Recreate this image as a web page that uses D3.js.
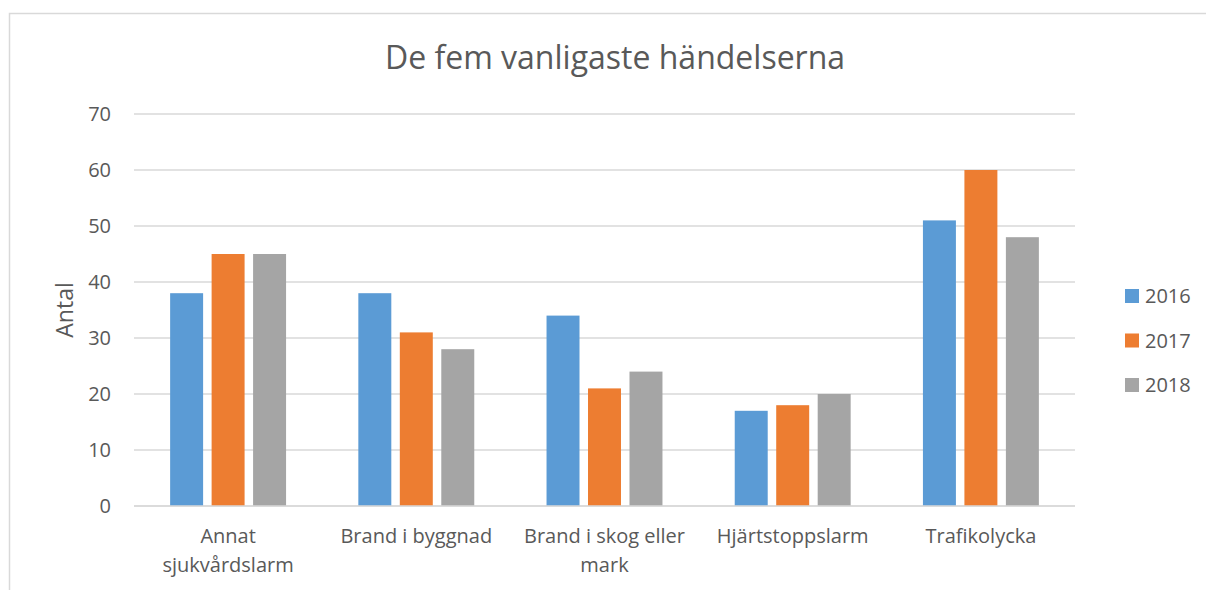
<!DOCTYPE html>
<html>
<head>
<meta charset="utf-8">
<script src="https://cdn.jsdelivr.net/npm/d3@7"></script>
<style>
  body { margin: 0; background: #fff; }
  svg text { font-family: "Open Sans", Lato, sans-serif; fill: #595959; }
</style>
</head>
<body>
<div id="chart"></div>
<script>
// data
var categories = ["Annat sjukvårdslarm", "Brand i byggnad", "Brand i skog eller mark", "Hjärtstoppslarm", "Trafikolycka"]
var years = ["2016", "2017", "2018"]
var values2016 = [38, 38, 34, 17, 51]
var values2017 = [45, 31, 21, 18, 60]
var values2018 = [45, 28, 24, 20, 48]
var yTicks = [0, 10, 20, 30, 40, 50, 60, 70]
var colors = ["#5B9BD5", "#ED7D31", "#A5A5A5"]

var series = [values2016, values2017, values2018]
var rows = categories.map((c, i) => ({ cat: c, vals: series.map(s => s[i]) }))

var width = 1206, height = 590
var m = { left: 134, right: 131, top: 114, bottom: 84 }
var font = "'Open Sans', Lato, sans-serif"

var svg = d3.select("#chart").append("svg")
    .attr("width", width)
    .attr("height", height)

// chart frame
svg.append("rect")
    .attr("x", 9.5).attr("y", 13.5)
    .attr("width", 1210).attr("height", 600)
    .attr("fill", "none").attr("stroke", "#D9D9D9").attr("stroke-width", 1.5)

var x = d3.scaleBand().domain(categories)
    .range([m.left, width - m.right])
    .paddingInner(0.384).paddingOuter(0.192)
var xs = d3.scaleBand().domain(years)
    .range([0, x.bandwidth()])
    .paddingInner(0.205)
var y = d3.scaleLinear().domain([0, 70]).range([height - m.bottom, m.top])

// grid
svg.append("g").selectAll("line").data(yTicks).join("line")
    .attr("x1", m.left).attr("x2", width - m.right)
    .attr("y1", d => y(d)).attr("y2", d => y(d))
    .attr("stroke", "#D9D9D9").attr("stroke-width", 1.3)

// y axis labels
var yAxis = svg.append("g")
    .attr("transform", "translate(" + (m.left - 23) + ",0)")
    .call(d3.axisLeft(y).tickValues(yTicks).tickSize(0).tickPadding(0))
yAxis.select(".domain").remove()
yAxis.selectAll("text").attr("font-size", 20).attr("fill", "#595959")
    .style("font-family", font)

// bars
var groups = svg.append("g").selectAll("g").data(rows).join("g")
    .attr("transform", d => "translate(" + x(d.cat) + ",0)")
groups.selectAll("rect").data(d => d.vals.map((v, i) => ({ year: years[i], v: v, i: i }))).join("rect")
    .attr("x", d => xs(d.year))
    .attr("width", xs.bandwidth())
    .attr("y", d => y(d.v))
    .attr("height", d => y(0) - y(d.v))
    .attr("fill", d => colors[d.i])

// baseline on top of bars
svg.append("line")
    .attr("x1", m.left).attr("x2", width - m.right)
    .attr("y1", y(0)).attr("y2", y(0))
    .attr("stroke", "#D9D9D9").attr("stroke-width", 1.3)

// x labels with wrapping
var xAxis = svg.append("g")
    .attr("transform", "translate(0," + y(0) + ")")
    .call(d3.axisBottom(x).tickSize(0).tickPadding(0))
xAxis.select(".domain").remove()
xAxis.selectAll("text")
    .attr("font-size", 20)
    .attr("fill", "#595959")
    .attr("dy", null)
    .attr("y", 37)
    .style("font-family", font)
    .each(function(d) { wrap(d3.select(this), 178) })

function wrap(text, w) {
  var words = text.text().split(/\s+/), line = [], lineNo = 0
  var yy = +text.attr("y")
  text.text(null)
  var tspan = text.append("tspan").attr("x", 0).attr("y", yy)
  words.forEach(word => {
    line.push(word)
    tspan.text(line.join(" "))
    if (tspan.node().getComputedTextLength() > w && line.length > 1) {
      line.pop()
      tspan.text(line.join(" "))
      line = [word]
      lineNo++
      tspan = text.append("tspan").attr("x", 0).attr("y", yy + lineNo * 29).text(word)
    }
  })
}

// title
svg.append("text")
    .attr("x", 615).attr("y", 69)
    .attr("text-anchor", "middle")
    .attr("font-size", 32)
    .text("De fem vanligaste händelserna")

// y title
svg.append("text")
    .attr("transform", "translate(73,310) rotate(-90)")
    .attr("text-anchor", "middle")
    .attr("font-size", 23)
    .text("Antal")

// legend
var legend = svg.append("g").selectAll("g").data(years).join("g")
    .attr("transform", (d, i) => "translate(1125," + (296 + i * 44.5) + ")")
legend.append("rect")
    .attr("x", 0).attr("y", -7).attr("width", 14).attr("height", 14)
    .attr("fill", (d, i) => colors[i])
legend.append("text")
    .attr("x", 20).attr("y", 7)
    .attr("font-size", 20)
    .text(d => d)
</script>
</body>
</html>
